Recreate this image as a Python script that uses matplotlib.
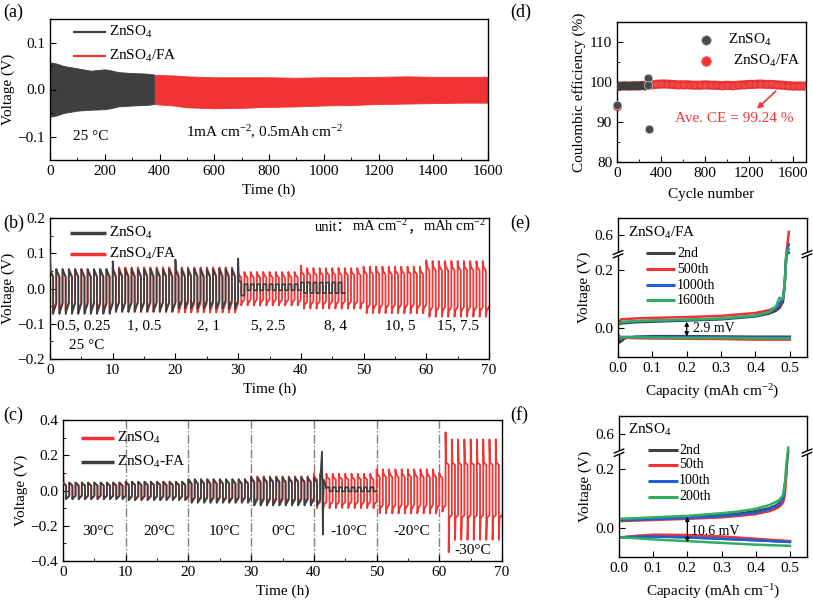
import numpy as np
import matplotlib
matplotlib.use('Agg')
import matplotlib.pyplot as plt
from matplotlib.ticker import MultipleLocator, FixedLocator

plt.rcParams['font.family'] = ['Liberation Serif', 'Noto Sans CJK SC']
plt.rcParams['mathtext.fontset'] = 'custom'
plt.rcParams['mathtext.rm'] = 'Liberation Serif'
plt.rcParams['mathtext.it'] = 'Liberation Serif:italic'
plt.rcParams['mathtext.bf'] = 'Liberation Serif:bold'
plt.rcParams['font.size'] = 11
plt.rcParams['xtick.direction'] = 'in'
plt.rcParams['ytick.direction'] = 'in'
plt.rcParams['xtick.major.size'] = 4
plt.rcParams['ytick.major.size'] = 4
plt.rcParams['xtick.minor.size'] = 2
plt.rcParams['ytick.minor.size'] = 2
plt.rcParams['axes.linewidth'] = 1.0

RED = '#f03434'
GREY = '#3f3f3f'
BLUE = '#1f5fd6'
GREEN = '#2fae62'
ZN = r'ZnSO$_\mathregular{4}$'

# ---------------- (a) data: voltage envelope ----------------
a_t_zn = [0, 25, 50, 100, 150, 200, 220, 250, 300, 350, 380]
a_hi_zn = [0.058, 0.055, 0.05, 0.045, 0.040, 0.043, 0.041, 0.037, 0.035, 0.034, 0.032]
a_lo_zn = [-0.058, -0.055, -0.05, -0.045, -0.043, -0.042, -0.040, -0.036, -0.034, -0.033, -0.031]
a_t_fa = [380, 450, 500, 600, 700, 800, 900, 1000, 1100, 1200, 1300, 1400, 1500, 1600]
a_hi_fa = [0.031, 0.030, 0.028, 0.026, 0.026, 0.026, 0.025, 0.026, 0.026, 0.027, 0.028, 0.027, 0.027, 0.027]
a_lo_fa = [-0.031, -0.034, -0.038, -0.040, -0.039, -0.037, -0.036, -0.034, -0.033, -0.031, -0.030, -0.029, -0.028, -0.028]

# ---------------- (b) data: rate segments ----------------
b_fa_start = [0, 10, 20, 30, 40, 50, 60]
b_fa_end = [10, 20, 30, 40, 50, 60, 70]
b_fa_top = [0.055, 0.060, 0.060, 0.047, 0.058, 0.062, 0.078]
b_fa_bot = [-0.065, -0.067, -0.068, -0.048, -0.057, -0.070, -0.080]
b_fa_first = [0.055, 0.060, 0.060, 0.047, 0.065, 0.062, 0.080]
b_fa_mid = [0.9, 0.9, 0.9, 0.85, 0.8, 0.8, 0.8]
b_fa_frac = [0.6, 0.6, 0.6, 0.65, 0.65, 0.65, 0.65]
b_zn_start = [0, 10, 20, 30, 31, 40]
b_zn_end = [10, 20, 30, 31, 40, 47.3]
b_zn_top = [0.055, 0.055, 0.055, 0.020, 0.012, 0.017]
b_zn_bot = [-0.072, -0.065, -0.057, -0.020, -0.005, -0.013]
b_zn_first = [0.095, 0.077, 0.082, 0.085, 0.012, 0.017]
b_zn_mid = [0.9, 0.9, 0.9, 1.0, 1.0, 1.0]
b_zn_frac = [0.6, 0.6, 0.6, 1.0, 1.0, 1.0]
b_rate_labels = ['0.5, 0.25', '1, 0.5', '2, 1', '5, 2.5', '8, 4', '10, 5', '15, 7.5']
b_rate_pos = [5.3, 15.0, 25.2, 34.8, 45.5, 55.8, 65.0]

# ---------------- (c) data: temperature segments ----------------
c_zn_start = [0, 10, 20, 30, 40, 50, 60, 61]
c_zn_end = [10, 20, 30, 40, 50, 60, 61, 70]
c_zn_top = [0.045, 0.050, 0.060, 0.080, 0.095, 0.120, 0.10, 0.29]
c_zn_bot = [-0.045, -0.050, -0.060, -0.070, -0.100, -0.130, -0.12, -0.28]
c_zn_first = [0.13, 0.050, 0.060, 0.080, 0.095, 0.120, 0.10, 0.33]
c_zn_firstbot = [-0.045, -0.050, -0.060, -0.070, -0.100, -0.130, -0.12, -0.35]
c_zn_mid = [0.9, 0.9, 0.9, 0.85, 0.8, 0.8, 0.85, 0.55]
c_zn_frac = [0.65, 0.65, 0.65, 0.65, 0.65, 0.62, 0.7, 0.5]
c_fa_start = [0, 10, 20, 30, 40]
c_fa_end = [10, 20, 30, 40, 41]
c_fa_top = [0.045, 0.050, 0.065, 0.075, 0.075]
c_fa_bot = [-0.050, -0.055, -0.070, -0.085, -0.085]
c_fa_mid = [0.9, 0.9, 0.9, 0.9, 0.9]
c_fa_frac = [0.6, 0.6, 0.6, 0.6, 0.6]
c_spike_t = [41.0, 41.3, 41.35, 41.45, 41.5, 41.6, 42.0]
c_spike_v = [0.05, 0.22, 0.04, -0.25, -0.03, 0.06, 0.012]
c_fa2_start = [42]
c_fa2_end = [50]
c_fa2_top = [0.018]
c_fa2_bot = [-0.005]
c_temps = ['30°C', '20°C', '10°C', '0°C', '-10°C', '-20°C']
c_temp_pos = [5.6, 15.3, 25.8, 35.1, 45.5, 55.6]
c_dividers = [10, 20, 30, 40, 50, 60]

# ---------------- (d) data: coulombic efficiency ----------------
d_fa_cyc = [5, 50, 100, 150, 200, 250, 300, 350, 400, 450, 500, 550, 600, 650, 700, 750, 800,
            850, 900, 950, 1000, 1050, 1100, 1150, 1200, 1250, 1300, 1350, 1400, 1450, 1500,
            1550, 1600, 1650, 1700]
d_fa_ce = [98.9, 99.0, 99.0, 99.0, 99.1, 99.1, 99.2, 99.4, 99.5, 99.5, 99.4, 99.3, 99.3, 99.3,
           99.2, 99.2, 99.3, 99.2, 99.2, 99.1, 99.2, 99.1, 99.2, 99.3, 99.4, 99.4, 99.5, 99.4,
           99.4, 99.3, 99.2, 99.1, 99.0, 99.0, 99.0]
d_zn_cyc = [8, 25, 50, 75, 100, 125, 150, 175, 200, 225, 250, 270]
d_zn_ce = [98.8, 99.0, 99.0, 99.1, 99.0, 99.0, 99.1, 99.0, 99.0, 99.1, 99.0, 99.0]
d_zn_out_cyc = [1, 280, 283, 290]
d_zn_out_ce = [94.2, 101.0, 99.2, 88.3]
d_fa_out_cyc = [3]
d_fa_out_ce = [93.9]

# ---------------- (e) data: ZnSO4/FA voltage profiles ----------------
e_cap_c = [0.0, 0.01, 0.05, 0.1, 0.2, 0.3, 0.4, 0.44, 0.46, 0.47, 0.48, 0.485, 0.49, 0.497]
e_c2 = [0.012, 0.016, 0.020, 0.022, 0.026, 0.030, 0.040, 0.050, 0.060, 0.070, 0.090, 0.15, 0.30, 0.50]
e_c500 = [0.020, 0.030, 0.033, 0.035, 0.038, 0.042, 0.052, 0.062, 0.072, 0.080, 0.100, 0.15, 0.30, 0.62]
e_c1000 = [0.015, 0.020, 0.023, 0.025, 0.028, 0.032, 0.042, 0.055, 0.068, 0.085, 0.100, 0.15, 0.30, 0.55]
e_c1600 = [0.015, 0.020, 0.024, 0.026, 0.029, 0.033, 0.043, 0.055, 0.075, 0.105, 0.100, 0.15, 0.30, 0.52]
e_cap_d = [0.0, 0.005, 0.02, 0.05, 0.1, 0.2, 0.3, 0.4, 0.5]
e_d2 = [-0.020, -0.050, -0.035, -0.030, -0.028, -0.028, -0.029, -0.030, -0.030]
e_d500 = [-0.030, -0.035, -0.033, -0.035, -0.036, -0.037, -0.038, -0.040, -0.040]
e_d1000 = [-0.030, -0.032, -0.031, -0.031, -0.031, -0.031, -0.032, -0.033, -0.033]
e_d1600 = [-0.025, -0.030, -0.031, -0.032, -0.033, -0.034, -0.034, -0.035, -0.036]

# ---------------- (f) data: ZnSO4 voltage profiles ----------------
f_cap_c = [0.0, 0.05, 0.1, 0.2, 0.3, 0.35, 0.4, 0.44, 0.46, 0.47, 0.48, 0.485, 0.49, 0.495]
f_c2 = [0.028, 0.030, 0.032, 0.036, 0.043, 0.048, 0.056, 0.066, 0.076, 0.085, 0.100, 0.13, 0.20, 0.48]
f_c50 = [0.022, 0.024, 0.026, 0.030, 0.035, 0.040, 0.046, 0.056, 0.065, 0.072, 0.085, 0.11, 0.185, np.nan]
f_c100 = [0.025, 0.027, 0.029, 0.033, 0.039, 0.044, 0.051, 0.062, 0.072, 0.080, 0.100, 0.15, np.nan, np.nan]
f_c200 = [0.030, 0.032, 0.035, 0.040, 0.049, 0.055, 0.064, 0.077, 0.088, 0.095, 0.110, 0.14, 0.22, 0.52]
f_cap_d = [0.0, 0.05, 0.1, 0.2, 0.3, 0.4, 0.5]
f_d2 = [-0.033, -0.031, -0.030, -0.033, -0.038, -0.043, -0.048]
f_d50 = [-0.035, -0.028, -0.024, -0.025, -0.030, -0.038, -0.046]
f_d100 = [-0.033, -0.031, -0.030, -0.033, -0.038, -0.043, -0.049]
f_d200 = [-0.033, -0.036, -0.040, -0.046, -0.052, -0.058, -0.062]

# ---------------- helpers ----------------
W, H = 813, 607
fig = plt.figure(figsize=(W / 100, H / 100), dpi=100)


def add_ax(box):
    l, t, r, b = box
    return fig.add_axes([l / W, 1 - b / H, (r - l) / W, (b - t) / H])


def px2ax(box, x, y):
    l, t, r, b = box
    return (x - l) / (r - l), (b - y) / (b - t)


def manual_legend(ax, box, labels, colors, x0, x1, xt, ys, fs, lw):
    for lab, col, y in zip(labels, colors, ys):
        a0, yy = px2ax(box, x0, y)
        a1, _ = px2ax(box, x1, y)
        at, _ = px2ax(box, xt, y)
        ax.plot([a0, a1], [yy, yy], transform=ax.transAxes, color=col, lw=lw,
                clip_on=False, solid_capstyle='butt', zorder=6)
        ax.text(at, yy, lab, transform=ax.transAxes, va='center', ha='left', fontsize=fs, zorder=6)


def wave(starts, ends, tops, bots, firsts=None, firstbots=None, mids=None, fracs=None, period=1.0):
    """Galvanostatic cycling trace built from per-segment peak / plateau voltages."""
    t, v = [], []
    for i, (s, e, tp, bt) in enumerate(zip(starts, ends, tops, bots)):
        ft = firsts[i] if firsts is not None else tp
        fb = firstbots[i] if firstbots is not None else bt
        md = mids[i] if mids is not None else 0.9
        fr = fracs[i] if fracs is not None else 0.65
        n = max(1, int(round((e - s) / period)))
        h = period / 2
        for k in range(n):
            t0 = s + k * period
            pk = ft if k == 0 else tp
            pb = fb if k == 0 else bt
            t += [t0, t0 + 0.2 * h, t0 + h, t0 + h, t0 + 1.2 * h, t0 + 2 * h]
            v += [pk, tp * md, tp * fr, pb, bt * md, bt * fr]
    return t, v


# ---------------- (a) ----------------
box_a = (50, 19, 488, 160)
ax = add_ax(box_a)
ax.fill_between(a_t_fa, a_lo_fa, a_hi_fa, color=RED, lw=0.6, edgecolor=RED)
ax.fill_between(a_t_zn, a_lo_zn, a_hi_zn, color=GREY, lw=0.6, edgecolor=GREY)
ax.set_xlim(0, 1600)
ax.set_ylim(-0.15, 0.15)
ax.xaxis.set_major_locator(MultipleLocator(200))
ax.xaxis.set_minor_locator(MultipleLocator(100))
ax.yaxis.set_major_locator(MultipleLocator(0.1))
ax.yaxis.set_minor_locator(MultipleLocator(0.05))
ax.set_xlabel('Time (h)', labelpad=4)
ax.set_ylabel('Voltage (V)', labelpad=2)
manual_legend(ax, box_a, [ZN, ZN + '/FA'], [GREY, RED], 73, 106, 109, [32, 56], 11, 1.6)
ax.text(150, -0.1, '25 °C', ha='center', va='center', fontsize=11)
ax.text(785, -0.09, r'1mA cm$^{-2}$, 0.5mAh cm$^{-2}$', ha='center', va='center', fontsize=11)

# ---------------- (b) ----------------
box_b = (50, 218, 489, 359)
ax = add_ax(box_b)
t, v = wave(b_fa_start, b_fa_end, b_fa_top, b_fa_bot, b_fa_first, None, b_fa_mid, b_fa_frac)
ax.plot(t, v, color=RED, lw=1.3, zorder=2)
t, v = wave(b_zn_start, b_zn_end, b_zn_top, b_zn_bot, b_zn_first, None, b_zn_mid, b_zn_frac)
ax.plot(t, v, color=GREY, lw=1.3, zorder=3)
ax.set_xlim(0, 70)
ax.set_ylim(-0.2, 0.2)
ax.xaxis.set_major_locator(MultipleLocator(10))
ax.xaxis.set_minor_locator(MultipleLocator(5))
ax.yaxis.set_major_locator(MultipleLocator(0.1))
ax.yaxis.set_minor_locator(MultipleLocator(0.05))
ax.set_xlabel('Time (h)', labelpad=4)
ax.set_ylabel('Voltage (V)', labelpad=2)
manual_legend(ax, box_b, [ZN, ZN + '/FA'], [GREY, RED], 70, 106, 109, [233, 254], 11, 2.5)
for lab, x in zip(b_rate_labels, b_rate_pos):
    ax.text(x, -0.105, lab, ha='center', va='center', fontsize=11)
ax.text(5.9, -0.162, '25 °C', ha='center', va='center', fontsize=11)
t1 = ax.text(42.3, 0.163, 'unit：', ha='left', va='baseline', fontsize=10.5)
t2 = ax.annotate(r'mA cm$^{-2}$', xy=(1, 0), xycoords=t1, ha='left', va='bottom', fontsize=10.5)
t3 = ax.annotate('，', xy=(1, 0), xycoords=t2, ha='left', va='bottom', fontsize=10.5)
t4 = ax.annotate(r'mAh cm$^{-2}$', xy=(1, 0), xycoords=t3, ha='left', va='bottom', fontsize=10.5)

# ---------------- (c) ----------------
box_c = (63, 420, 502, 561)
ax = add_ax(box_c)
t, v = wave(c_zn_start, c_zn_end, c_zn_top, c_zn_bot, c_zn_first, c_zn_firstbot, c_zn_mid, c_zn_frac)
ax.plot(t, v, color=RED, lw=1.3, zorder=2)
t1_, v1_ = wave(c_fa_start, c_fa_end, c_fa_top, c_fa_bot, None, None, c_fa_mid, c_fa_frac)
t2_, v2_ = wave(c_fa2_start, c_fa2_end, c_fa2_top, c_fa2_bot, None, None, [1.0], [1.0])
ax.plot(t1_ + c_spike_t + t2_, v1_ + c_spike_v + v2_, color=GREY, lw=1.3, zorder=3)
for xd in c_dividers:
    ax.axvline(xd, color='#808080', lw=1.0, ls='-.', zorder=1)
ax.set_xlim(0, 70)
ax.set_ylim(-0.4, 0.4)
ax.xaxis.set_major_locator(MultipleLocator(10))
ax.xaxis.set_minor_locator(MultipleLocator(5))
ax.yaxis.set_major_locator(MultipleLocator(0.2))
ax.yaxis.set_minor_locator(MultipleLocator(0.1))
ax.set_xlabel('Time (h)', labelpad=4)
ax.set_ylabel('Voltage (V)', labelpad=2)
manual_legend(ax, box_c, [ZN, ZN + '-FA'], [RED, GREY], 81, 114, 117, [438, 462], 11, 2.5)
for lab, x in zip(c_temps, c_temp_pos):
    ax.text(x, -0.23, lab, ha='center', va='center', fontsize=11)
ax.text(65.4, -0.343, '-30°C', ha='center', va='center', fontsize=11)

# ---------------- (d) ----------------
box_d = (617, 22, 806, 162)
ax = add_ax(box_d)
ax.plot(d_fa_cyc, d_fa_ce, color=RED, lw=6.5, solid_capstyle='round', zorder=2)
ax.plot(d_fa_cyc, d_fa_ce, 'o', color='#f04848', ms=5, mec='#e02a2a', mew=0.5, zorder=2)
ax.plot(d_fa_out_cyc, d_fa_out_ce, 'o', color=RED, ms=6, mec='#c02020', mew=0.5, zorder=3, clip_on=False)
ax.plot(d_zn_cyc, d_zn_ce, color=GREY, lw=6.0, solid_capstyle='round', zorder=4)
ax.plot(d_zn_out_cyc, d_zn_out_ce, 'o', color='#4a4a4a', ms=6, mec='#bbbbbb', mew=0.6, zorder=5, clip_on=False)
ax.set_xlim(0, 1715)
ax.set_ylim(80, 115)
ax.xaxis.set_major_locator(MultipleLocator(400))
ax.xaxis.set_minor_locator(MultipleLocator(200))
ax.yaxis.set_major_locator(MultipleLocator(10))
ax.yaxis.set_minor_locator(MultipleLocator(5))
ax.set_xlabel('Cycle number', labelpad=6)
ax.set_ylabel('Coulombic efficiency (%)', labelpad=2)
ax.plot([0.47], [0.874], 'o', transform=ax.transAxes, color='#4a4a4a', ms=7, mec='#bbbbbb', mew=0.6)
ax.text(0.585, 0.874, ZN, transform=ax.transAxes, va='center', ha='left', fontsize=11)
ax.plot([0.47], [0.72], 'o', transform=ax.transAxes, color=RED, ms=7, mec='#f07070', mew=0.6)
ax.text(0.615, 0.72, ZN + '/FA', transform=ax.transAxes, va='center', ha='left', fontsize=11)
ax.annotate('', xy=(1270, 93.3), xytext=(1440, 97.7),
            arrowprops=dict(arrowstyle='-|>', color=RED, lw=1.2, mutation_scale=8,
                            shrinkA=0, shrinkB=0))
ax.text(1060, 90.8, 'Ave. CE = 99.24 %', color=RED, ha='center', va='center', fontsize=11)

# ---------------- (e), (f): broken y axis ----------------
brk_x = [-10, 0.255, 0.5, 10]
brk_y = [-10, 0.255, 0.26, 0.26 + 9.5 * 0.6]


def fwd(y):
    return np.interp(y, brk_x, brk_y)


def inv(y):
    return np.interp(y, brk_y, brk_x)


def setup_profile(ax, xlabel):
    ax.set_yscale('function', functions=(fwd, inv))
    ax.set_xlim(0, 0.55)
    ax.set_ylim(-0.1, 0.7)
    ax.yaxis.set_major_locator(FixedLocator([0.0, 0.2, 0.6]))
    ax.yaxis.set_minor_locator(FixedLocator([]))
    ax.xaxis.set_major_locator(MultipleLocator(0.1))
    ax.set_xlabel(xlabel, labelpad=6)
    ax.set_ylabel('Voltage (V)', labelpad=2)
    lo, hi = fwd(-0.1), fwd(0.7)
    yb = (fwd(0.2575) - lo) / (hi - lo)
    for xs in (0.0, 1.0):
        ax.add_patch(plt.Rectangle((xs - 0.03, yb - 0.012), 0.06, 0.024, transform=ax.transAxes,
                                   facecolor='white', edgecolor='none', clip_on=False, zorder=10))
        for dy in (-0.012, 0.012):
            ax.plot([xs - 0.025, xs + 0.025], [yb + dy - 0.014, yb + dy + 0.014],
                    transform=ax.transAxes, color='black', lw=1.0, clip_on=False, zorder=11)


box_e = (618, 218, 807, 357)
ax = add_ax(box_e)
for vc, vd, col in [(e_c2, e_d2, GREY), (e_c500, e_d500, RED), (e_c1000, e_d1000, BLUE),
                    (e_c1600, e_d1600, GREEN)]:
    ax.plot(e_cap_c, vc, color=col, lw=1.8)
    ax.plot(e_cap_d, vd, color=col, lw=1.8)
setup_profile(ax, r'Capacity (mAh cm$^{-2}$)')
manual_legend(ax, box_e, ['2nd', '500th', '1000th', '1600th'], [GREY, RED, BLUE, GREEN],
              646, 675, 677, [253, 269, 285, 300], 10, 2.2)
tx, ty = px2ax(box_e, 628, 233)
ax.text(tx, ty, ZN + '/FA', transform=ax.transAxes, va='center', ha='left', fontsize=11)
ax.annotate('', xy=(0.2, -0.029), xytext=(0.2, 0.022),
            arrowprops=dict(arrowstyle='<|-|>', color='black', lw=0.9, mutation_scale=6,
                            shrinkA=0, shrinkB=0))
ax.text(0.218, 0.0, '2.9 mV', ha='left', va='center', fontsize=10)

box_f = (619, 416, 807, 557)
ax = add_ax(box_f)
for vc, vd, col in [(f_c2, f_d2, GREY), (f_c50, f_d50, RED), (f_c100, f_d100, BLUE),
                    (f_c200, f_d200, GREEN)]:
    ax.plot(f_cap_c, vc, color=col, lw=1.8)
    ax.plot(f_cap_d, vd, color=col, lw=1.8)
setup_profile(ax, r'Capacity (mAh cm$^{-1}$)')
manual_legend(ax, box_f, ['2nd', '50th', '100th', '200th'], [GREY, RED, BLUE, GREEN],
              648, 678, 679, [450, 465, 481, 497], 10, 2.2)
tx, ty = px2ax(box_f, 628, 430)
ax.text(tx, ty, ZN, transform=ax.transAxes, va='center', ha='left', fontsize=11)
ax.annotate('', xy=(0.2, -0.05), xytext=(0.2, 0.037),
            arrowprops=dict(arrowstyle='<|-|>', color='black', lw=0.9, mutation_scale=6,
                            shrinkA=0, shrinkB=0))
ax.text(0.21, -0.012, '10.6 mV', ha='left', va='center', fontsize=10)

# ---------------- panel labels ----------------
for lab, x, y in [('(a)', 3, 12), ('(b)', 3, 223), ('(c)', 3, 415),
                  ('(d)', 510, 12), ('(e)', 510, 223), ('(f)', 510, 415)]:
    fig.text(x / W, 1 - y / H, lab, ha='left', va='center', fontsize=13)

fig.savefig('out.png', dpi=100)
